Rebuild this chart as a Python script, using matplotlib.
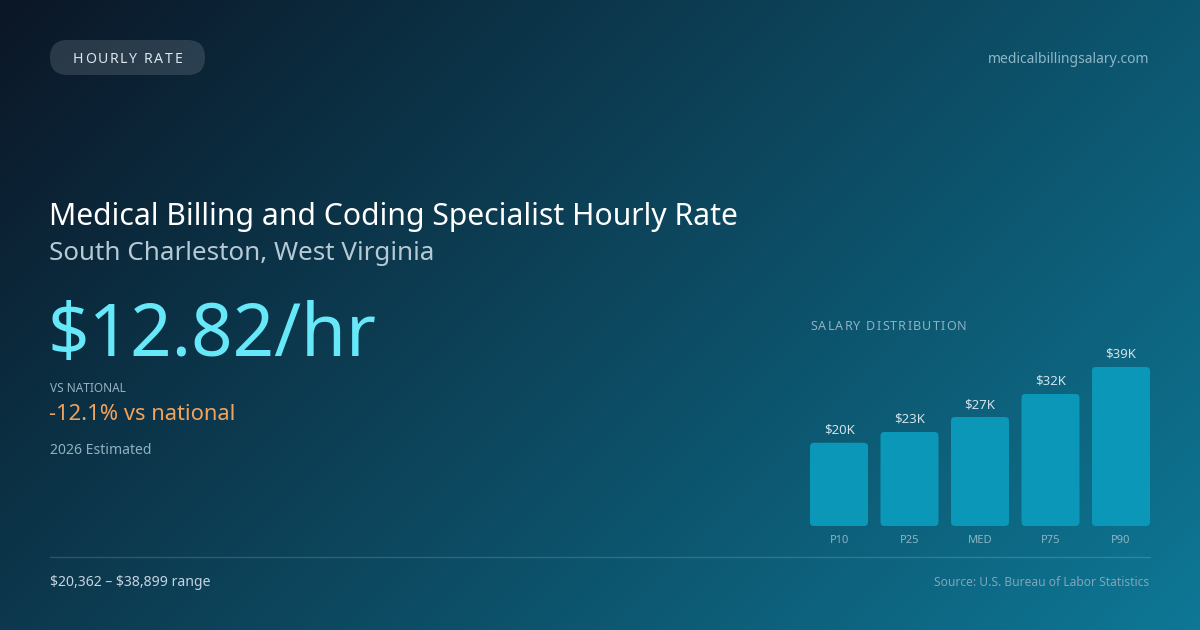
import numpy as np
import matplotlib
matplotlib.use("Agg")
import matplotlib.pyplot as plt
from matplotlib.patches import FancyBboxPatch
from matplotlib.colors import to_rgb

plt.rcParams['font.family'] = ['Noto Sans', 'DejaVu Sans']

# ---- data ----
categories = ["P10", "P25", "MED", "P75", "P90"]
salaries = [20362, 23000, 26666, 32300, 38899]
bar_labels = ["$20K", "$23K", "$27K", "$32K", "$39K"]
badge = "HOURLY RATE"
site = "medicalbillingsalary.com"
title = "Medical Billing and Coding Specialist Hourly Rate"
subtitle = "South Charleston, West Virginia"
headline = "$12.82/hr"
vs_label = "VS NATIONAL"
vs_value = "-12.1% vs national"
estimate = "2026 Estimated"
chart_title = "SALARY DISTRIBUTION"
range_text = "$20,362 \u2013 $38,899 range"
source_text = "Source: U.S. Bureau of Labor Statistics"

W, H = 1200, 630
fig = plt.figure(figsize=(12, 6.3), dpi=100)
bg = fig.add_axes([0, 0, 1, 1])
bg.set_xlim(0, W)
bg.set_ylim(H, 0)
bg.axis('off')

# background gradient (135deg)
xx, yy = np.meshgrid(np.arange(W) + 0.5, np.arange(H) + 0.5)
proj = ((xx - W / 2) + (yy - H / 2)) * 0.7071
half = (W / 2 + H / 2) * 0.7071
t = np.clip(0.5 + proj / (2 * half), 0, 1)[..., None]
c0 = np.array(to_rgb("#0b1626"))
c1 = np.array(to_rgb("#0e7896"))
img = c0 * (1 - t) + c1 * t
bg.imshow(img, extent=(0, W, H, 0), aspect='auto', zorder=0, interpolation='bilinear')

renderer = fig.canvas.get_renderer()


def txt(ax, x, y, s, **kw):
    return ax.text(x, y, s, parse_math=False, **kw)


def spaced_text(ax, x, y, s, spacing, draw=True, **kw):
    cur = x
    for ch in s:
        tt = ax.text(cur, y, ch, parse_math=False, **kw)
        bb = tt.get_window_extent(renderer=renderer)
        cur += bb.width + spacing
        if not draw:
            tt.remove()
    return cur - spacing


# pill
pill = FancyBboxPatch((50, 40), 155, 35, boxstyle="round,pad=0,rounding_size=17.5",
                      fc="#ffffff", alpha=0.13, ec="none", zorder=2)
bg.add_patch(pill)
badge_kw = dict(fontsize=10.2, color="#dce6ee", va='baseline', zorder=3)
wbadge = spaced_text(bg, 0, 63, badge, 1.7, draw=False, **badge_kw)
spaced_text(bg, 127.5 - wbadge / 2, 63, badge, 1.7, **badge_kw)

txt(bg, 1149, 63, site, fontsize=10.0, color="#8db6c7", ha='right', va='baseline', zorder=3)

txt(bg, 49, 225, title, fontsize=21.7, color="#ffffff", va='baseline', zorder=3)
txt(bg, 49, 260, subtitle, fontsize=18.7, color="#b6cad6", va='baseline', zorder=3)
txt(bg, 48, 356, headline, fontsize=52.3, color="#67e8f9", va='baseline', zorder=3)
txt(bg, 50, 392, vs_label, fontsize=8.5, color="#96b2c2", va='baseline', zorder=3)
txt(bg, 49, 420, vs_value, fontsize=15.8, color="#f0a35c", va='baseline', zorder=3)
txt(bg, 50, 454, estimate, fontsize=10.1, color="#8fb0c0", va='baseline', zorder=3)

spaced_text(bg, 810, 330, chart_title, 1.2, fontsize=9, color="#8fb2c2",
            va='baseline', zorder=3)

bg.plot([50, 1150], [556.5, 556.5], color="#ffffff", alpha=0.15, lw=1, zorder=2)
txt(bg, 50, 586, range_text, fontsize=10.1, color="#c4d4de", va='baseline', zorder=3)
txt(bg, 1149, 586, source_text, fontsize=8.7, color="#7ea6b9", ha='right', va='baseline', zorder=3)

# ---- bar chart ----
x0, x1 = 810, 1150
ybot, ytop = 526, 367
ax = fig.add_axes([x0 / W, 1 - ybot / H, (x1 - x0) / W, (ybot - ytop) / H])
ax.patch.set_alpha(0)
ax.axis('off')
n = len(categories)
width = 0.823
ax.set_xlim(-width / 2, n - 1 + width / 2)
ax.set_ylim(0, max(salaries))
pos = np.arange(n)
bars = ax.bar(pos, salaries, width=width, color="none")

px_x = (n - 1 + width) / (x1 - x0)
px_y = max(salaries) / (ybot - ytop)
r = 4 * px_x
for b, lab, cat in zip(bars, bar_labels, categories):
    bx, by = b.get_x(), b.get_y()
    bw, bh = b.get_width(), b.get_height()
    p = FancyBboxPatch((bx, by), bw, bh, boxstyle=f"round,pad=0,rounding_size={r}",
                       mutation_aspect=px_y / px_x, fc="#0b98b8", ec="none",
                       clip_on=False)
    ax.add_patch(p)
    ax.text(bx + bw / 2, bh + 9 * px_y, lab, ha='center', va='baseline', parse_math=False,
            fontsize=9.5, color="#d2e2ea", clip_on=False)
    ax.text(bx + bw / 2, -17 * px_y, cat, ha='center', va='baseline', parse_math=False,
            fontsize=8, color="#8ab6c6", clip_on=False)

fig.savefig("out.png", dpi=100)
